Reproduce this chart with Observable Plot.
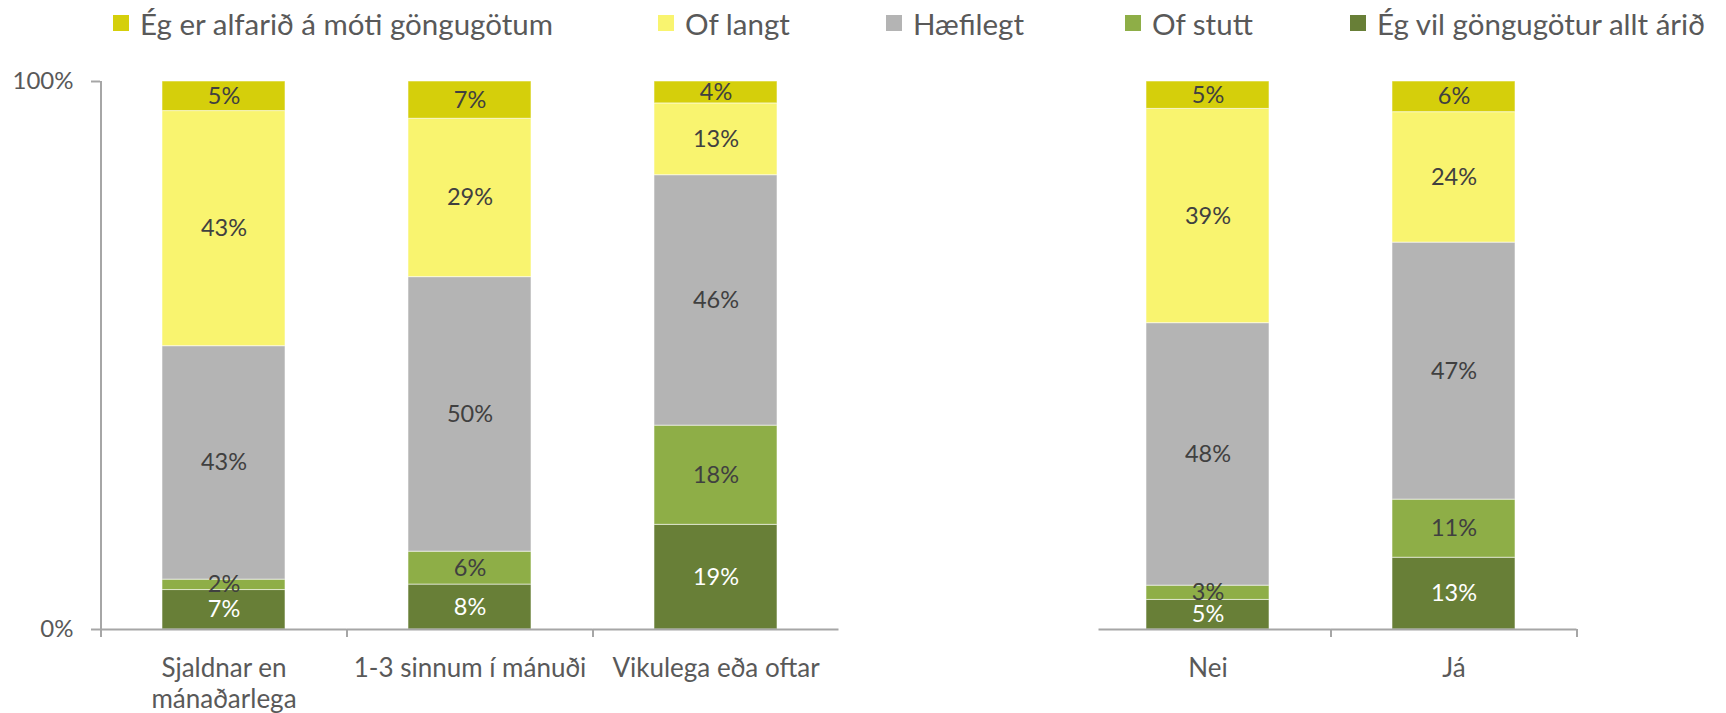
<!DOCTYPE html>
<html><head><meta charset="utf-8">
<script src="https://cdn.jsdelivr.net/npm/d3@7"></script>
<script src="https://cdn.jsdelivr.net/npm/@observablehq/plot@0.6"></script>
<style>
body{margin:0;background:#fff;font-family:Lato,sans-serif;}
#wrap{position:relative;width:1726px;}
#legend{position:relative;height:56px;}
.item{position:absolute;top:0;display:flex;align-items:center;height:46px;font-size:29.5px;color:#595959;white-space:nowrap;}
.sw{width:16px;height:16px;margin-right:11px;flex:none;}
</style></head><body>
<div id="wrap"><div id="legend"></div><div id="chart"></div></div>
<script>
// categories (x axis)
const categories = ["Sjaldnar en mánaðarlega", "1-3 sinnum í mánuði", "Vikulega eða oftar", "Nei", "Já"];
const categoryLabels = ["Sjaldnar en\nmánaðarlega", "1-3 sinnum í mánuði", "Vikulega eða oftar", "Nei", "Já"];
// series, bottom to top of each stack
const series = ["Ég vil göngugötur allt árið", "Of stutt", "Hæfilegt", "Of langt", "Ég er alfarið á móti göngugötum"];
const colors = ["#687f37", "#8eae47", "#b4b4b4", "#f9f46f", "#d5cf0b"];
// values (%) per series, one per category
const vilAllt   = [7.2, 8.2, 19.1, 5.4, 13.1];
const ofStutt   = [1.9, 6.0, 18.1, 2.6, 10.6];
const haefilegt = [42.6, 50.1, 45.7, 47.9, 46.9];
const ofLangt   = [42.9, 28.9, 13.1, 39.1, 23.8];
const moti      = [5.4, 6.8, 4.0, 5.0, 5.6];
const seriesValues = [vilAllt, ofStutt, haefilegt, ofLangt, moti];
// y ticks
const yTicks = [0, 100];

// legend (order as in reference)
const legendOrder = [4, 3, 2, 1, 0];
const legendLeft = [113, 658, 886, 1125, 1350];
const legend = document.getElementById("legend");
legendOrder.forEach((si, k) => {
  const it = document.createElement("div");
  it.className = "item";
  it.style.left = legendLeft[k] + "px";
  const sw = document.createElement("span");
  sw.className = "sw"; sw.style.background = colors[si];
  const tx = document.createElement("span");
  tx.textContent = series[si];
  it.append(sw, tx);
  legend.append(it);
});

const gap = " ";
const domain = [...categories.slice(0, 3), gap, ...categories.slice(3)];
const labelOf = new Map(categories.map((c, i) => [c, categoryLabels[i]]));

const rows = [];
categories.forEach((c, i) => series.forEach((s, j) => rows.push({category: c, series: s, value: seriesValues[j][i]})));

const st = {x: "category", y: "value", z: "series", order: series};
const axisColor = "#a6a6a6";
const leftSeg = [categories[0], categories[1], categories[2], categories[4]];
const tickCats = [categories[0], categories[1], categories[3], categories[4]];
const fmt = d => Math.round(d.value) + "%";

const chart = Plot.plot({
  width: 1726, height: 657,
  marginLeft: 100, marginRight: 150, marginTop: 25, marginBottom: 84,
  style: {fontFamily: "Lato, sans-serif", overflow: "visible", background: "#fff"},
  x: {domain, paddingInner: 0.5, paddingOuter: 0.25, label: null},
  y: {domain: [0, 100], label: null},
  color: {domain: series, range: colors},
  marks: [
    Plot.barY(rows, Plot.stackY({...st, fill: "series", stroke: "#ffffff", strokeOpacity: 0.55, strokeWidth: 1})),
    Plot.text(rows, Plot.filter(d => d.series !== series[0], Plot.stackY({...st, text: fmt, fill: "#404040", fontSize: 23.5}))),
    Plot.text(rows, Plot.filter(d => d.series === series[0], Plot.stackY({...st, text: fmt, fill: "#ffffff", fontSize: 23.5}))),
    // baseline segments
    Plot.ruleY(leftSeg, {x1: d => d, x2: d => d, y: () => 0, insetLeft: -61.5, insetRight: -61.5, stroke: axisColor, strokeWidth: 2}),
    Plot.ruleY([categories[3]], {x1: d => d, x2: d => d, y: () => 0, insetLeft: -47.5, insetRight: -61.5, stroke: axisColor, strokeWidth: 2}),
    // category boundary ticks
    Plot.ruleX(tickCats, {x: d => d, dx: 123, y1: () => 0, y2: () => 0, insetBottom: -8, stroke: axisColor, strokeWidth: 2}),
    // y axis line
    Plot.ruleX([categories[0]], {x: d => d, dx: -123, y1: () => 100, y2: () => 0, insetBottom: -8, stroke: axisColor, strokeWidth: 2}),
    Plot.axisY({ticks: yTicks, tickFormat: d => d + "%", tickSize: 9, tickPadding: 18, stroke: axisColor, strokeWidth: 2, fill: "#595959", fontSize: 24}),
    Plot.axisX({tickSize: 0, tickPadding: 25, fontSize: 26, fill: "#595959", lineHeight: 1.2, tickFormat: d => labelOf.get(d) ?? ""})
  ]
});
document.getElementById("chart").append(chart);
</script>
</body></html>
